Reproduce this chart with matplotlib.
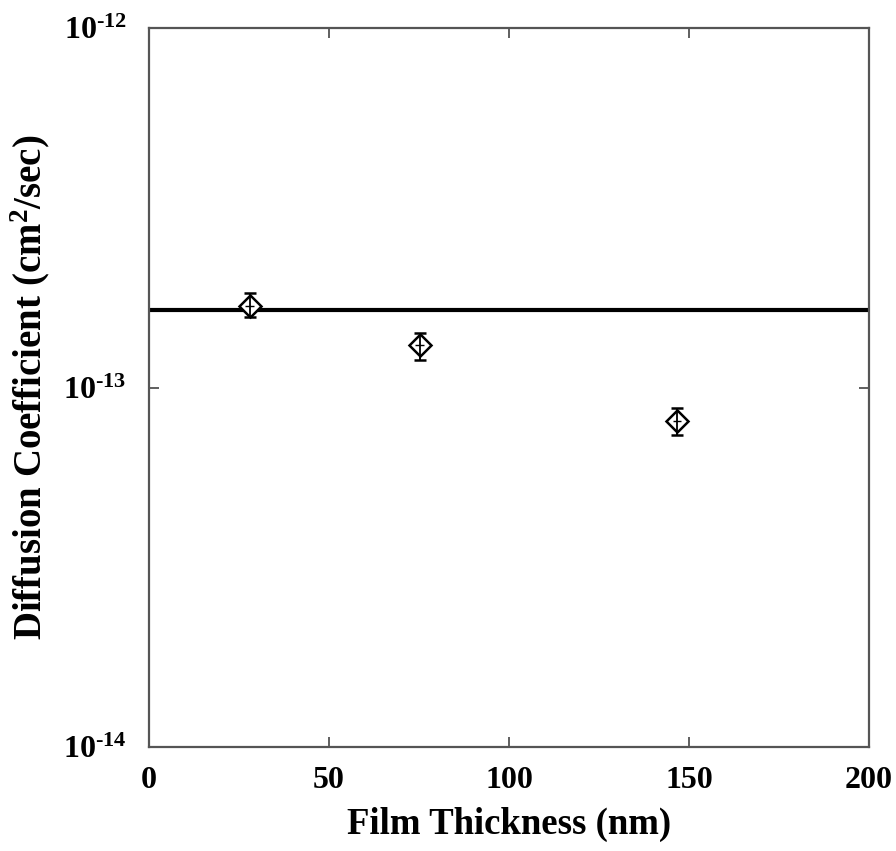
import matplotlib
matplotlib.use("Agg")
import matplotlib.pyplot as plt
from matplotlib.ticker import FixedLocator, FixedFormatter, NullLocator

plt.rcParams['font.family'] = ['Liberation Serif', 'DejaVu Serif']
plt.rcParams['font.weight'] = 'bold'
plt.rcParams['mathtext.fontset'] = 'custom'
plt.rcParams['mathtext.rm'] = 'Liberation Serif:bold'
plt.rcParams['mathtext.bf'] = 'Liberation Serif:bold'
plt.rcParams['mathtext.it'] = 'Liberation Serif:bold'
plt.rcParams['mathtext.default'] = 'bf'

# Data
thickness = [28.0, 75.2, 146.7]
diffusion = [1.69e-13, 1.31e-13, 8.09e-14]
err_low = [1.57e-13, 1.19e-13, 7.39e-14]
err_high = [1.83e-13, 1.415e-13, 8.78e-14]
x_err = [1.2, 1.2, 1.2]
reference_level = 1.645e-13

x_ticks = [0, 50, 100, 150, 200]
y_ticks = [1e-14, 1e-13, 1e-12]
y_tick_labels = ['$10^{\u201014}$', '$10^{\u201013}$', '$10^{\u201012}$']

fig = plt.figure(figsize=(8.96, 8.51), dpi=100)
ax = fig.add_axes([0.1663, 0.1222, 0.8036, 0.8449])

ax.set_yscale('log')
ax.set_xlim(0, 200)
ax.set_ylim(1e-14, 1e-12)

ax.axhline(reference_level, color='black', lw=3.0, zorder=2)

yerr = [[d - l for d, l in zip(diffusion, err_low)],
        [h - d for d, h in zip(diffusion, err_high)]]
ax.errorbar(thickness, diffusion, yerr=yerr, fmt='D', mfc='white', mec='black',
            mew=1.8, ms=11.5, ecolor='black', elinewidth=1.3, capsize=4.5,
            capthick=1.3, zorder=3)
ax.errorbar(thickness, diffusion, xerr=x_err, fmt='none', ecolor='black',
            elinewidth=1.0, capsize=0, zorder=4)
ax.errorbar(thickness, diffusion, yerr=yerr, fmt='none', ecolor='black',
            elinewidth=1.3, capsize=0, zorder=4)

ax.xaxis.set_major_locator(FixedLocator(x_ticks))
ax.set_xticklabels([str(t) for t in x_ticks])
ax.yaxis.set_major_locator(FixedLocator(y_ticks))
ax.yaxis.set_major_formatter(FixedFormatter(y_tick_labels))
ax.yaxis.set_minor_locator(NullLocator())

ax.tick_params(axis='both', which='major', direction='in', length=7, width=1.2,
               top=True, right=True, labelsize=23, colors='#444444',
               labelcolor='black')
ax.tick_params(axis='x', pad=14)
ax.tick_params(axis='y', pad=16)

for s in ax.spines.values():
    s.set_linewidth(1.6)
    s.set_color('#555555')

ax.set_xlabel('Film Thickness (nm)', fontsize=26.5, fontweight='bold', labelpad=8)
ax.set_ylabel('Diffusion Coefficient (cm$^2$/sec)', fontsize=28,
              fontweight='bold', labelpad=8)

fig.savefig('out.png', dpi=100)
